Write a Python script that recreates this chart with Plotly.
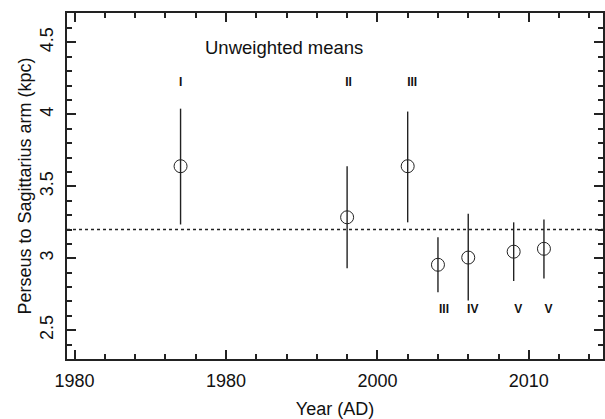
import plotly.graph_objects as go

# Data
years = [1987, 1998, 2002, 2004, 2006, 2009, 2011]
means = [3.64, 3.285, 3.64, 2.955, 3.005, 3.046, 3.066]
err_top = [4.04, 3.64, 4.02, 3.146, 3.31, 3.25, 3.27]
err_bottom = [3.235, 2.93, 3.25, 2.764, 2.706, 2.842, 2.86]

label_x = [1987.0, 1998.1, 2002.3, 2004.4, 2006.3, 2009.3, 2011.3]
label_y = [4.22, 4.22, 4.22, 2.64, 2.64, 2.64, 2.64]
label_text = ["I", "II", "III", "III", "IV", "V", "V"]

reference_level = 3.2

x_tickvals = [1980, 1990, 2000, 2010]
x_ticktext = ["1980", "1980", "2000", "2010"]
y_tickvals = [2.5, 3, 3.5, 4, 4.5]
y_ticktext = ["2.5", "3", "3.5", "4", "4.5"]

err_plus = [t - m for t, m in zip(err_top, means)]
err_minus = [m - b for m, b in zip(means, err_bottom)]

ink = "#222222"
font = "Liberation Sans, Arial, sans-serif"

fig = go.Figure()

fig.add_trace(go.Scatter(
    x=years, y=means, mode="markers",
    marker=dict(symbol="circle-open", size=13, color=ink, line=dict(width=1, color=ink)),
    error_y=dict(type="data", symmetric=False, array=err_plus, arrayminus=err_minus,
                 width=0, thickness=1.4, color=ink),
    showlegend=False, hoverinfo="skip",
))

fig.add_trace(go.Scatter(
    x=label_x, y=label_y, mode="text", text=label_text,
    textfont=dict(family=font, size=12, color="#111", weight="bold"),
    showlegend=False, hoverinfo="skip",
))

fig.add_shape(type="line", xref="paper", yref="y", x0=0, x1=1,
              y0=reference_level, y1=reference_level,
              line=dict(color=ink, width=1.3, dash="dot"))

fig.add_annotation(x=1993.85, y=4.465, xref="x", yref="y", text="Unweighted means",
                   showarrow=False, font=dict(family=font, size=18.5, color="#111"))

axis_common = dict(
    showline=True, linewidth=2, linecolor=ink, mirror="ticks",
    ticks="inside", ticklen=9, tickwidth=1.5, tickcolor=ink,
    showgrid=False, zeroline=False,
    tickfont=dict(family=font, size=18, color="#111"),
)

fig.update_xaxes(
    range=[1979.5, 2014.9], tickmode="array", tickvals=x_tickvals, ticktext=x_ticktext,
    minor=dict(tickmode="linear", tick0=1980, dtick=2, ticks="inside", ticklen=5,
               tickwidth=1.5, tickcolor=ink),
    title=dict(text="Year (AD)", font=dict(family=font, size=18, color="#111"), standoff=13),
    ticklabelstandoff=4,
    **axis_common,
)
fig.update_yaxes(
    range=[2.3, 4.705], tickmode="array", tickvals=y_tickvals, ticktext=y_ticktext,
    tickangle=-90,
    minor=dict(tickmode="linear", tick0=2.3, dtick=0.1, ticks="inside", ticklen=5,
               tickwidth=1.5, tickcolor=ink),
    title=dict(text="Perseus to Sagittarius arm (kpc)", font=dict(family=font, size=18, color="#111"),
               standoff=0),
    ticklabelstandoff=5,
    **axis_common,
)

fig.update_layout(
    width=605, height=419,
    margin=dict(l=67, r=2, t=13, b=60, autoexpand=False),
    paper_bgcolor="white", plot_bgcolor="white",
)

fig.write_html(
    "out.html",
    config={"displayModeBar": False},
    post_script="document.body.style.margin='0';document.body.style.overflow='hidden';",
)
